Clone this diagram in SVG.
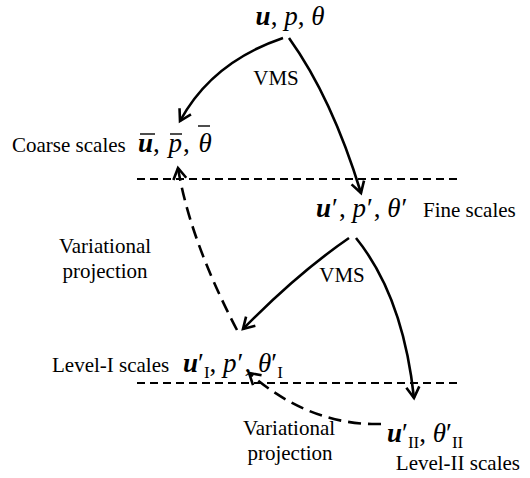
<svg xmlns="http://www.w3.org/2000/svg" width="530" height="478" viewBox="0 0 530 478">
<style>
text{font-family:"Liberation Serif","Times New Roman",serif;fill:#000}
.lbl{font-size:21px}
.math{font-size:27px;font-style:italic}
.b{font-weight:bold}
.r{font-style:normal}
.sub{font-style:normal;font-size:17px}
.arr{fill:none;stroke:#000;stroke-width:2.6}
.dash{stroke-dasharray:13 7}
.sep{fill:none;stroke:#000;stroke-width:2;stroke-dasharray:8 5}
.bar{stroke:#000;stroke-width:1.4}
</style>
<defs>
<marker id="ah" markerUnits="userSpaceOnUse" markerWidth="20" markerHeight="20" viewBox="-14 -10 16 20" refX="0" refY="0" orient="auto">
<path d="M-11,-6.5 L0,0 L-11,6.5" fill="none" stroke="#000" stroke-width="2.6" stroke-dasharray="none"/>
</marker>
</defs>
<g id="separators">
<line class="sep" x1="137" y1="179" x2="460" y2="179"/>
<line class="sep" x1="137" y1="383" x2="460" y2="383"/>
</g>
<g id="connectors">
<path class="arr" d="M283,38 Q212,62 180,121" marker-end="url(#ah)"/>
<path class="arr" d="M289,38 Q332,98 361,193" marker-end="url(#ah)"/>
<path class="arr dash" d="M237,330 Q190,240 178,168" marker-end="url(#ah)"/>
<path class="arr" d="M349,238 Q298,273 243,329" marker-end="url(#ah)"/>
<path class="arr" d="M356,238 Q403,296 414,398" marker-end="url(#ah)"/>
<path class="arr dash" d="M381,424 Q310,426 249,373" marker-end="url(#ah)"/>
</g>
<g id="labels">
<text class="lbl" x="276" y="85" text-anchor="middle">VMS</text>
<text class="lbl" x="342" y="282" text-anchor="middle">VMS</text>
<text class="lbl" x="105" y="253" text-anchor="middle">Variational</text>
<text class="lbl" x="105" y="278" text-anchor="middle">projection</text>
<text class="lbl" x="289" y="435" text-anchor="middle">Variational</text>
<text class="lbl" x="290" y="460" text-anchor="middle">projection</text>
</g>
<g id="node-full">
<text class="math" x="290" y="25" text-anchor="middle"><tspan class="b">u</tspan><tspan class="r">, </tspan>p<tspan class="r">, </tspan>θ</text>
</g>
<g id="node-coarse">
<text class="lbl" x="12" y="152">Coarse scales</text>
<text class="math" x="138" y="152"><tspan class="b">u</tspan><tspan class="r">, </tspan><tspan dx="2">p</tspan><tspan class="r" dx="1">, </tspan><tspan dx="2">θ</tspan></text>
<line class="bar" x1="140" y1="134" x2="155" y2="134"/>
<line class="bar" x1="170" y1="134" x2="182" y2="134"/>
<line class="bar" x1="198" y1="126" x2="210" y2="126"/>
</g>
<g id="node-fine">
<text class="math" x="316" y="217"><tspan class="b">u</tspan><tspan class="r" dx="1">′</tspan><tspan class="r" dx="1">, </tspan>p<tspan class="r" dx="1">′</tspan><tspan class="r" dx="1">, </tspan>θ<tspan class="r" dx="1">′</tspan></text>
<text class="lbl" x="423" y="217">Fine scales</text>
</g>
<g id="node-level1">
<text class="lbl" x="52" y="372">Level-I scales</text>
<text class="math" x="183" y="372"><tspan class="b">u</tspan><tspan class="r">′</tspan><tspan class="sub" dx="0" dy="6">I</tspan><tspan class="r" dy="-6">, </tspan>p<tspan class="r" dx="1">′</tspan><tspan class="r" dx="1">, </tspan>θ<tspan class="r">′</tspan><tspan class="sub" dx="0" dy="6">I</tspan></text>
</g>
<g id="node-level2">
<text class="math" x="387" y="442"><tspan class="b">u</tspan><tspan class="r">′</tspan><tspan class="sub" dx="0" dy="6">II</tspan><tspan class="r" dy="-6">, </tspan>θ<tspan class="r">′</tspan><tspan class="sub" dx="0" dy="6">II</tspan></text>
<text class="lbl" x="520" y="470" text-anchor="end">Level-II scales</text>
</g>
</svg>
